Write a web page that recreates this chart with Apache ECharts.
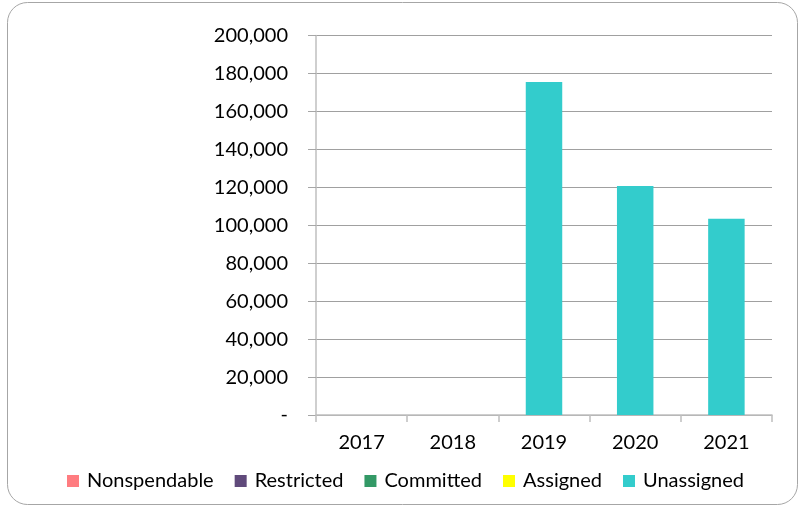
<!DOCTYPE html>
<html>
<head>
<meta charset="utf-8">
<script src="https://cdn.jsdelivr.net/npm/echarts@6/dist/echarts.min.js"></script>
<style>
html,body{margin:0;padding:0;background:#fff;}
#chart{width:799px;height:506px;}
</style>
</head>
<body>
<div id="chart"></div>
<script>
const categories = ['2017', '2018', '2019', '2020', '2021'];
const seriesNames = ['Nonspendable', 'Restricted', 'Committed', 'Assigned', 'Unassigned'];
const nonspendable = [0, 0, 0, 0, 0];
const restricted = [0, 0, 0, 0, 0];
const committed = [0, 0, 0, 0, 0];
const assigned = [0, 0, 0, 0, 0];
const unassigned = [0, 0, 175500, 120700, 103450];
const colors = ['#FF7C80', '#604A7B', '#339966', '#FFFF00', '#33CCCC'];

const dataSets = [nonspendable, restricted, committed, assigned, unassigned];
const font = 'Lato, "Open Sans", sans-serif';

const chart = echarts.init(document.getElementById('chart'), null, {renderer: 'canvas'});
chart.setOption({
  animation: false,
  backgroundColor: '#fff',
  textStyle: {fontFamily: font},
  graphic: [{
    type: 'rect',
    shape: {x: 7.5, y: 2.5, width: 790, height: 502, r: 20},
    style: {fill: 'none', stroke: '#A6A6A6', lineWidth: 1},
    silent: true,
    z: -1
  }],
  legend: {
    data: seriesNames,
    left: 62,
    top: 466,
    itemWidth: 12,
    itemHeight: 12,
    itemGap: 21,
    icon: 'rect',
    textStyle: {fontFamily: font, fontSize: 20, color: '#000', padding: [0, 0, 0, 3]}
  },
  grid: {left: 316, right: 27, top: 35.5, bottom: 91, containLabel: false},
  xAxis: {
    type: 'category',
    data: categories,
    axisLine: {show: true, lineStyle: {color: '#BFBFBF', width: 1.5}},
    axisTick: {show: true, length: 7, alignWithLabel: false, lineStyle: {color: '#BFBFBF', width: 1.5}},
    axisLabel: {fontFamily: font, fontSize: 20, color: '#000', margin: 18}
  },
  yAxis: {
    type: 'value',
    min: 0,
    max: 200000,
    interval: 20000,
    axisLine: {show: true, lineStyle: {color: '#BFBFBF', width: 1.5}},
    axisTick: {show: true, length: 8, lineStyle: {color: '#A6A6A6'}},
    splitLine: {show: true, lineStyle: {color: '#A0A0A0', width: 1}},
    axisLabel: {
      fontFamily: font, fontSize: 20, color: '#000', margin: 28,
      formatter: v => v === 0 ? '-' : v.toLocaleString('en-US')
    }
  },
  series: seriesNames.map((name, i) => ({
    name: name,
    type: 'bar',
    stack: 'total',
    barWidth: '40%',
    itemStyle: {color: colors[i]},
    data: dataSets[i]
  }))
});
</script>
</body>
</html>
